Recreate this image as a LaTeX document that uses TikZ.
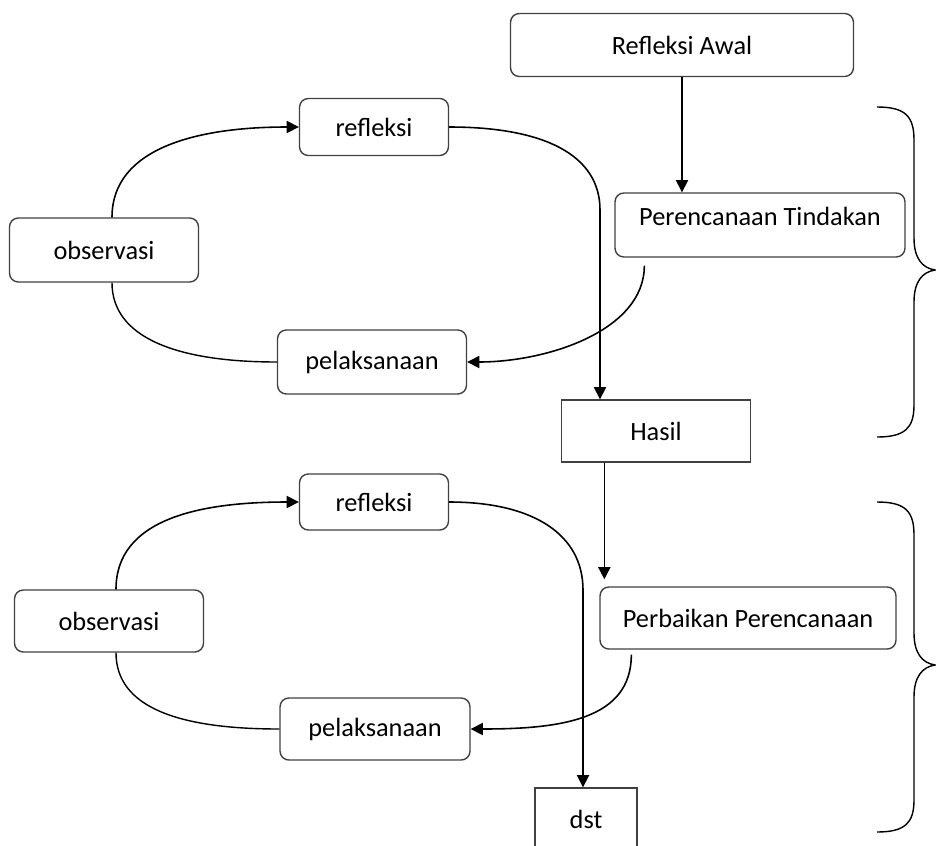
\documentclass[tikz,border=0pt]{standalone}
\usepackage{fontspec}
\setmainfont{Carlito}
\usetikzlibrary{arrows.meta,calc}

\begin{document}
\begin{tikzpicture}[x=0.02cm, y=-0.02cm,
    kotak/.style={draw=black!75, line width=0.8pt, rounded corners=5pt, inner sep=0pt, font=\fontsize{15}{18}\selectfont},
    kotaktegas/.style={kotak, sharp corners},
    panah/.style={-{Triangle[length=7pt,width=7pt]}, line width=0.9pt},
    garis/.style={line width=0.8pt}]
    \useasboundingbox (0,0) rectangle (936,845);
    % siklus pertama
    \node[kotak, minimum width=6.86cm, minimum height=1.26cm] (awal) at (682,45) {Refleksi Awal};
    \node[kotak, minimum width=5.8cm, minimum height=1.28cm,
        text height=10pt, text depth=10pt] (tindakan) at (760,225) {Perencanaan Tindakan};
    \node[kotak, minimum width=2.98cm, minimum height=1.14cm] (refleksiA) at (374,127) {refleksi};
    \node[kotak, minimum width=3.78cm, minimum height=1.28cm] (observasiA) at (104,250) {observasi};
    \node[kotak, minimum width=3.78cm, minimum height=1.28cm] (pelaksanaanA) at (372,362) {pelaksanaan};
    \node[kotaktegas, minimum width=3.78cm, minimum height=1.24cm] (hasil) at (656,431) {Hasil};
    % siklus kedua
    \node[kotak, minimum width=2.98cm, minimum height=1.12cm] (refleksiB) at (374,502) {refleksi};
    \node[kotak, minimum width=3.78cm, minimum height=1.24cm] (observasiB) at (109,621) {observasi};
    \node[kotak, minimum width=3.8cm, minimum height=1.24cm] (pelaksanaanB) at (375,729) {pelaksanaan};
    \node[kotak, minimum width=5.92cm, minimum height=1.24cm] (perbaikan) at (748,618) {Perbaikan Perencanaan};
    \node[kotaktegas, minimum width=2.04cm, minimum height=1.24cm] (dst) at (586,819) {dst};

    \coordinate (beloka) at (600,210);
    \coordinate (belokb) at (583,590);
    \coordinate (masukb) at ($(perbaikan.north west)+(5,-7)$);

    \draw[panah] (awal.south) -- (awal.south |- tindakan.north);
    \draw[panah] (refleksiA.east) .. controls +(95,0) and +(0,-55) .. (beloka) -- (beloka |- hasil.north);
    \draw[panah] ($(tindakan.south west)+(30,8)$) .. controls +(0,65) and +(80,0) .. (pelaksanaanA.east);
    \draw[panah] ($(observasiA.north)+(8,0)$) .. controls +(0,-70) and +(-100,0) .. (refleksiA.west);
    \draw[garis] ($(observasiA.south)+(8,0)$) .. controls +(0,55) and +(-100,0) .. (pelaksanaanA.west);

    \draw[panah] (hasil.south -| masukb) -- (masukb);
    \draw[panah] (refleksiB.east) .. controls +(85,0) and +(0,-55) .. (belokb) -- (belokb |- dst.north);
    \draw[panah] ($(perbaikan.south west)+(32,5)$) .. controls +(0,65) and +(90,0) .. (pelaksanaanB.east);
    \draw[panah] ($(observasiB.north)+(7,0)$) .. controls +(0,-70) and +(-100,0) .. (refleksiB.west);
    \draw[garis] ($(observasiB.south)+(7,0)$) .. controls +(0,55) and +(-100,0) .. (pelaksanaanB.west);

    % kurung kurawal
    \foreach \geser in {0,395}{
        \draw[garis, shift={(0,\geser)}] (877,107) .. controls (905,107) and (914,116) .. (914,140)
            -- (914,238) .. controls (914,258) and (922,268) .. (935,270)
            .. controls (922,272) and (914,282) .. (914,302)
            -- (914,405) .. controls (914,428) and (905,437) .. (877,437);
    }
\end{tikzpicture}
\end{document}
